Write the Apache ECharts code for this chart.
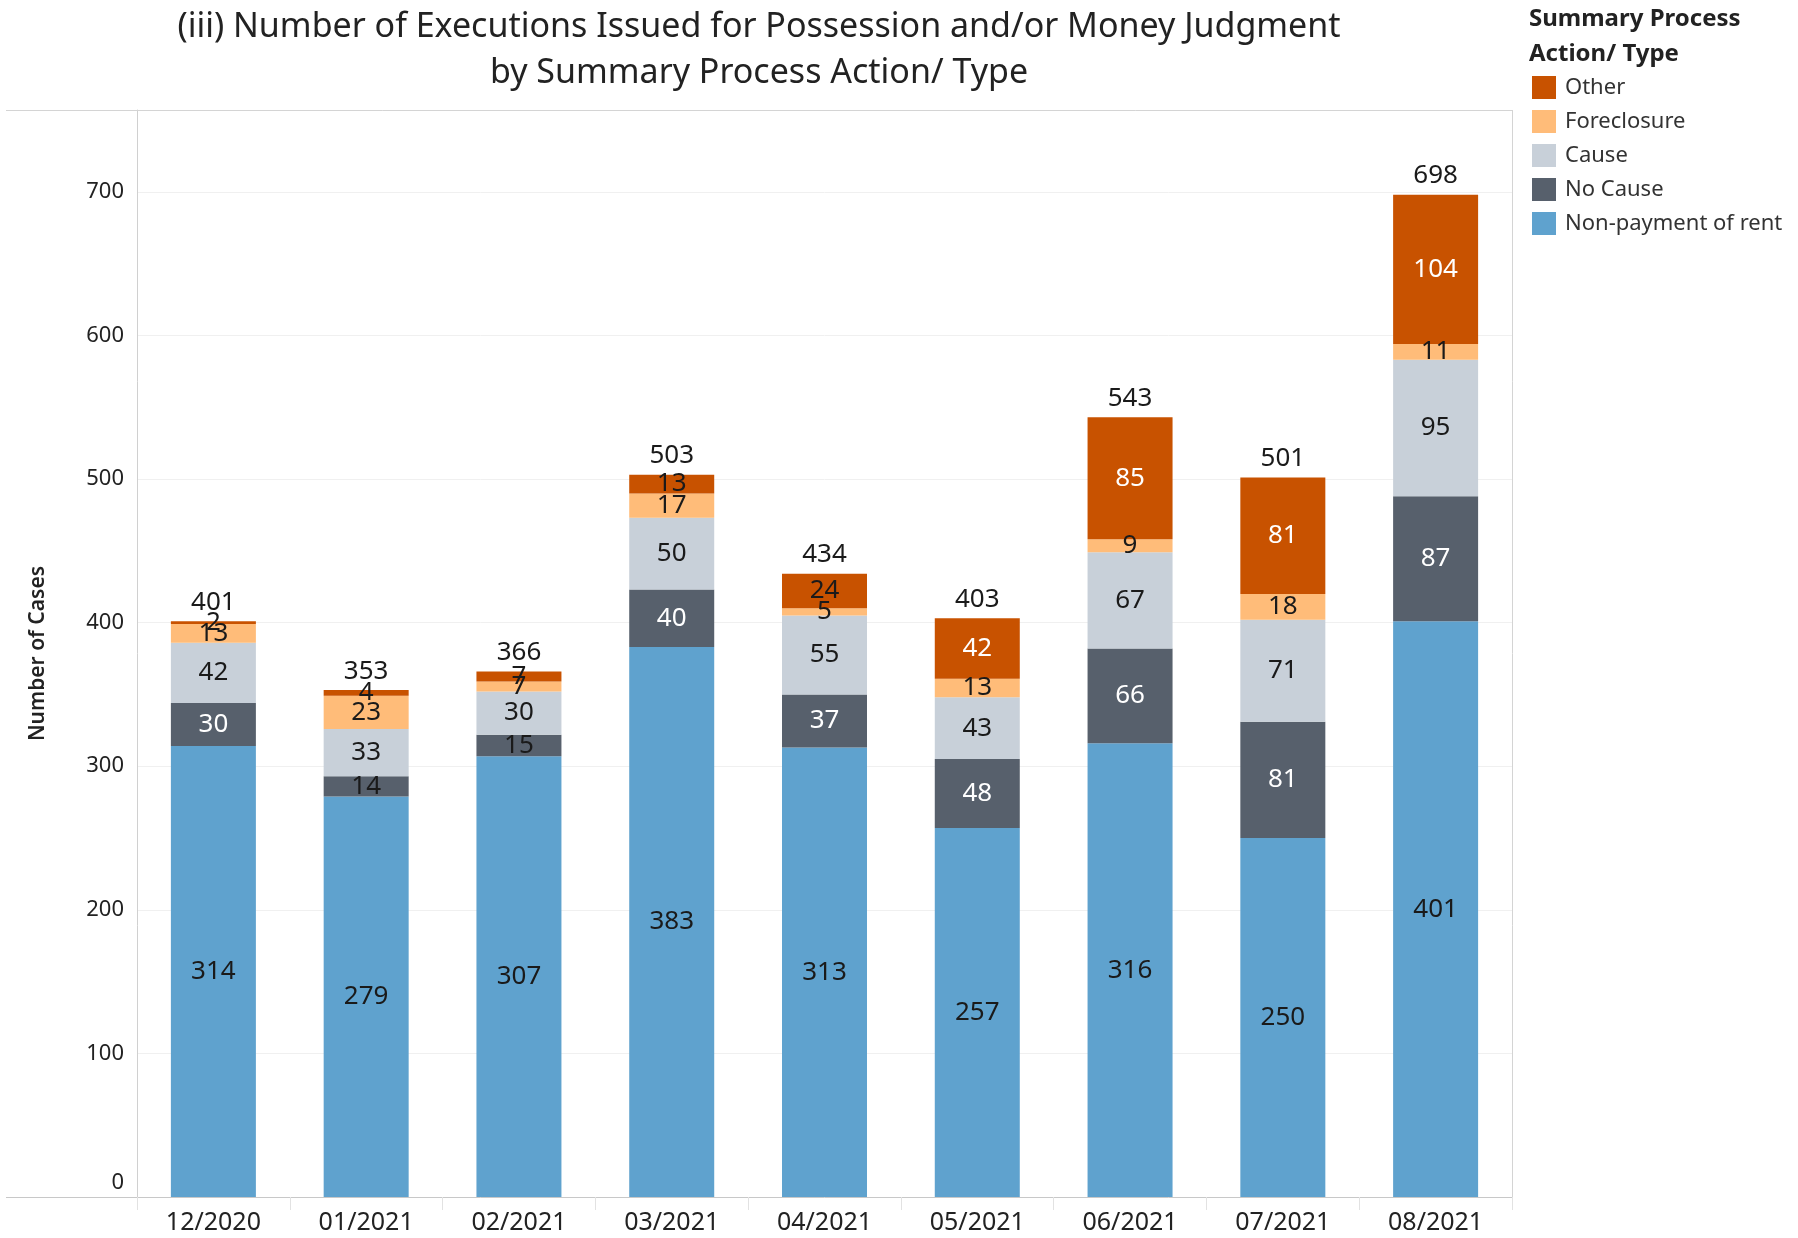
<!DOCTYPE html>
<html>
<head>
<meta charset="utf-8">
<title>Executions by Summary Process Action/ Type</title>
<script src="https://cdn.jsdelivr.net/npm/echarts@6/dist/echarts.min.js"></script>
<style>
  html, body { margin: 0; padding: 0; background: #fff; }
  #chart { width: 1798px; height: 1238px; }
</style>
</head>
<body>
<div id="chart"></div>
<script>
// data
const months = ['12/2020', '01/2021', '02/2021', '03/2021', '04/2021', '05/2021', '06/2021', '07/2021', '08/2021']
const nonPayment = [314, 279, 307, 383, 313, 257, 316, 250, 401]
const noCause = [30, 14, 15, 40, 37, 48, 66, 81, 87]
const cause = [42, 33, 30, 50, 55, 43, 67, 71, 95]
const foreclosure = [13, 23, 7, 17, 5, 13, 9, 18, 11]
const other = [2, 4, 7, 13, 24, 42, 85, 81, 104]
const totals = [401, 353, 366, 503, 434, 403, 543, 501, 698]
const yTicks = [0, 100, 200, 300, 400, 500, 600, 700]

const FONT = 'Noto Sans'
const DARK = '#1a1a1a'

// left of plot, right of plot, top, bottom
const gl = 137, gr = 1512, gt = 110, gb = 1197

const makeSeries = (name, data, color, darkFill) => ({
  name: name,
  type: 'bar',
  stack: 'all',
  barWidth: 85,
  itemStyle: { color: color },
  label: {
    show: true,
    position: 'inside',
    fontFamily: FONT,
    fontSize: 26
  },
  data: data.map(v => ({
    value: v,
    // white text only when the dark segment is tall enough
    label: { color: darkFill && v >= 25 ? '#fff' : DARK }
  }))
})

const option = {
  animation: false,
  title: [
    {
      text: '(iii) Number of Executions Issued for Possession and/or Money Judgment\nby Summary Process Action/ Type',
      left: 759,
      top: 4,
      padding: 0,
      textAlign: 'center',
      textStyle: { fontFamily: FONT, fontSize: 34, fontWeight: 'normal', color: '#222', lineHeight: 46 }
    },
    {
      text: 'Summary Process\nAction/ Type',
      left: 1529,
      top: 2,
      padding: 0,
      textStyle: { fontFamily: FONT, fontSize: 24, fontWeight: 'bold', color: '#222', lineHeight: 35 }
    }
  ],
  legend: {
    orient: 'vertical',
    left: 1532,
    top: 76,
    padding: 0,
    icon: 'rect',
    itemWidth: 24,
    itemHeight: 23,
    itemGap: 11,
    data: ['Other', 'Foreclosure', 'Cause', 'No Cause', 'Non-payment of rent'],
    textStyle: { fontFamily: FONT, fontSize: 22, color: '#333', padding: [0, 0, 0, 4] }
  },
  grid: { left: gl, right: 1798 - gr, top: gt, bottom: 1238 - gb },
  xAxis: {
    type: 'category',
    data: months,
    axisLine: { lineStyle: { color: '#c8c8c8' } },
    axisTick: { show: true, length: 13, lineStyle: { color: '#e2e2e2' } },
    axisLabel: { fontFamily: FONT, fontSize: 25, color: '#222', margin: 13 }
  },
  yAxis: {
    type: 'value',
    min: 0,
    max: 757,
    interval: 100,
    name: 'Number of Cases',
    nameLocation: 'middle',
    nameGap: 88,
    nameTextStyle: { fontFamily: FONT, fontSize: 21, fontWeight: 600, color: '#222' },
    axisLine: { show: true, lineStyle: { color: '#d0d0d0' } },
    axisTick: { show: false },
    axisLabel: {
      fontFamily: FONT,
      fontSize: 22,
      color: '#222',
      margin: 13,
      // the zero label sits a little above the baseline
      formatter: v => (v === 0 ? '{zero|0}' : yTicks.includes(v) ? String(v) : ''),
      rich: {
        zero: { fontFamily: FONT, fontSize: 22, color: '#222', padding: [0, 0, 28, 0] }
      }
    },
    splitLine: { lineStyle: { color: '#f0f0f0' } }
  },
  series: [
    makeSeries('Non-payment of rent', nonPayment, '#5fa2ce', false),
    makeSeries('No Cause', noCause, '#57606c', true),
    makeSeries('Cause', cause, '#c8d0d9', false),
    makeSeries('Foreclosure', foreclosure, '#ffbc79', false),
    makeSeries('Other', other, '#c85200', true),
    {
      // totals above each bar
      name: 'Total',
      type: 'scatter',
      symbolSize: 0,
      data: totals,
      z: 5,
      label: {
        show: true,
        position: 'top',
        distance: 6,
        fontFamily: FONT,
        fontSize: 26,
        color: DARK,
        opacity: 1,
        textBorderWidth: 0
      }
    }
  ],
  graphic: [
    // frame lines around the plot area
    { type: 'line', z: 10, shape: { x1: 6, y1: gt + 0.5, x2: gr, y2: gt + 0.5 }, style: { stroke: '#d4d4d4', lineWidth: 1 } },
    { type: 'line', z: 10, shape: { x1: gr + 0.5, y1: gt, x2: gr + 0.5, y2: gb }, style: { stroke: '#d4d4d4', lineWidth: 1 } },
    { type: 'line', z: 10, shape: { x1: 6, y1: gb + 0.5, x2: gl, y2: gb + 0.5 }, style: { stroke: '#c8c8c8', lineWidth: 1 } }
  ]
}

const chart = echarts.init(document.getElementById('chart'))
chart.setOption(option)
window.addEventListener('resize', () => { chart.resize() })
</script>
</body>
</html>
